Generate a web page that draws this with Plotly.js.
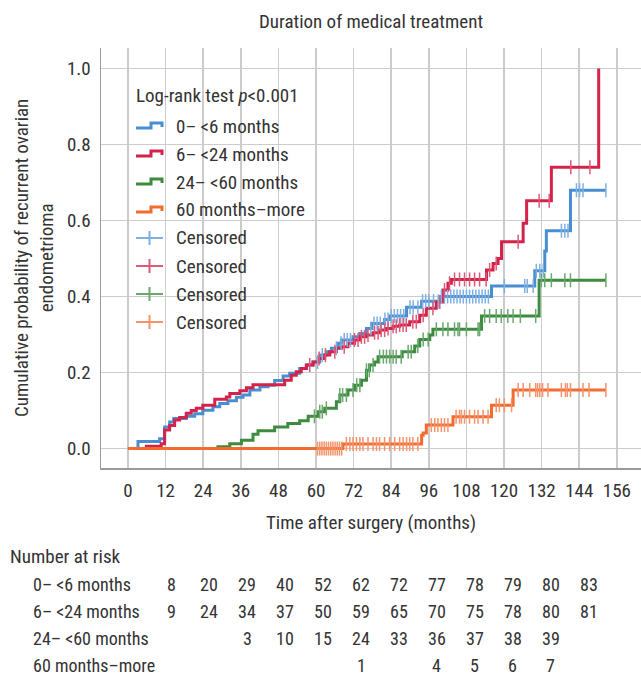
<!DOCTYPE html>
<html>
<head>
<meta charset="utf-8">
<script src="https://cdn.plot.ly/plotly-3.0.1.min.js"></script>
<style>
html,body{margin:0;padding:0;background:#fff;}
#chart{width:641px;height:679px;}
</style>
</head>
<body>
<div id="chart"></div>
<script>
// ---------------- data ----------------
const groupNames = ["0\u2013 <6 months", "6\u2013 <24 months", "24\u2013 <60 months", "60 months\u2013more"];
const groupColors = ["#4a8ed2", "#d3234b", "#3c8b3f", "#f26c2f"];
const censorColors = ["#7fb0e2", "#dc5a78", "#6aa86c", "#f5936a"];

// event times (months) and cumulative probability after each step
const t_0to6 = [0, 3.2, 10.1, 11.7, 13.3, 14.6, 18.6, 21.3, 23.9, 27.1, 29.3, 31.9, 34.6, 36.7, 38.9, 42.1, 44.7, 46.8, 49.5, 51.6, 54.8, 57.0, 59.0, 61.2, 63.3, 64.9, 67.1, 68.1, 71.8, 74.0, 76.1, 77.7, 81.9, 83.5, 88.9, 93.7, 99.5, 116.0, 129.8, 133.0, 133.5, 141.2, 152.5];
const p_0to6 = [0, 0.019, 0.026, 0.057, 0.070, 0.079, 0.085, 0.092, 0.101, 0.110, 0.119, 0.126, 0.135, 0.141, 0.154, 0.163, 0.167, 0.179, 0.191, 0.198, 0.211, 0.220, 0.228, 0.246, 0.255, 0.264, 0.277, 0.286, 0.294, 0.303, 0.316, 0.329, 0.340, 0.349, 0.372, 0.388, 0.400, 0.428, 0.468, 0.520, 0.573, 0.680, 0.680];
const c_0to6 = [60.5, 62, 66.5, 68, 69, 70, 71, 77.5, 78.5, 79.5, 80.5, 82, 83, 84, 85, 86, 87, 88, 90, 91, 92.5, 94, 95, 96, 97.5, 99, 100, 101, 102, 103, 104, 105, 106, 107, 108, 109, 110, 111, 112, 113, 114, 115, 120.1, 126.6, 127.4, 129.3, 130.3, 131.4, 132.5, 138.3, 139.4, 140.4, 143.1, 144.1, 145.2, 152.5];

const t_6to24 = [0, 5.9, 10.6, 11.7, 13.3, 14.9, 16.5, 18.6, 20.2, 21.8, 23.9, 27.7, 31.4, 32.5, 35.7, 37.8, 39.9, 50.0, 52.1, 53.7, 55.3, 56.9, 59.1, 60.7, 62.8, 64.4, 66.5, 68.1, 70.2, 72.3, 74.0, 76.1, 78.2, 80.3, 82.5, 84.6, 86.7, 89.9, 93.1, 95.2, 98.4, 100.5, 102.1, 103.2, 114.4, 116.5, 118.1, 119.2, 126.1, 127.2, 135.1, 150.2];
const p_6to24 = [0, 0.006, 0.013, 0.049, 0.061, 0.075, 0.082, 0.093, 0.100, 0.106, 0.114, 0.130, 0.136, 0.145, 0.152, 0.160, 0.168, 0.180, 0.193, 0.202, 0.211, 0.220, 0.228, 0.237, 0.246, 0.255, 0.264, 0.268, 0.277, 0.286, 0.294, 0.299, 0.305, 0.312, 0.316, 0.322, 0.325, 0.334, 0.351, 0.369, 0.386, 0.417, 0.435, 0.445, 0.470, 0.487, 0.500, 0.544, 0.593, 0.652, 0.740, 1.000];
const c_6to24 = [58, 61, 63, 66, 69, 72.3, 73.4, 74.5, 75.5, 76.6, 78.7, 79.8, 80.8, 81.9, 83, 84.6, 85.6, 86.7, 87.8, 88.8, 90.9, 92, 94.2, 97.3, 99.5, 101, 102.6, 104.2, 105.8, 107.4, 109, 110.6, 112.2, 114.3, 115.4, 117.5, 124.5, 131.2, 134.4, 141.3, 147.4];

const t_24to60 = [0, 28.7, 32.5, 36.2, 39.9, 41.5, 46.8, 51.0, 54.8, 57.5, 60.7, 62.8, 66.5, 67.6, 70.2, 72.3, 74.5, 76.1, 77.1, 78.7, 79.8, 87.5, 91.5, 93.1, 96.3, 97.3, 112.8, 131.2, 152.5];
const p_24to60 = [0, 0.005, 0.013, 0.022, 0.038, 0.047, 0.057, 0.066, 0.073, 0.085, 0.097, 0.106, 0.123, 0.141, 0.154, 0.167, 0.180, 0.206, 0.220, 0.228, 0.242, 0.255, 0.270, 0.287, 0.299, 0.314, 0.349, 0.443, 0.443];
const c_24to60 = [59.5, 61.2, 62, 63.3, 67.6, 68.5, 69.7, 71.8, 73, 74, 76.1, 77, 78.2, 80.3, 81.5, 82.5, 83.5, 84.6, 85.6, 87.2, 89.4, 90.4, 92.5, 94.2, 95.8, 98.4, 100.5, 102.1, 104.2, 105.3, 105.8, 108, 111.7, 112.2, 113.8, 115.4, 117.5, 119.1, 121.2, 122.9, 125.2, 130.1, 131.9, 133, 135.1, 139.4, 141.2, 152.5];

const t_60more = [0, 68.6, 93.7, 94.2, 95.2, 103.7, 116.0, 122.9, 152.5];
const p_60more = [0, 0.012, 0.035, 0.041, 0.062, 0.084, 0.114, 0.154, 0.154];
const c_60more = [60.5, 61.2, 61.9, 62.6, 63.3, 64, 64.7, 65.4, 66.1, 66.8, 67.5, 68.2, 69.7, 70.8, 71.8, 72.9, 74, 75, 76.6, 78.2, 79.3, 80.3, 81.9, 83.5, 85.1, 86.7, 87.8, 88.9, 89.9, 90.9, 92.5, 96.8, 97.9, 98.9, 100, 101, 102.1, 104.7, 105.8, 106.4, 107.4, 109, 110.6, 111.7, 113.3, 114.9, 117.5, 118.5, 120.1, 122.4, 124.5, 126.1, 128.2, 130.1, 130.7, 131.4, 132.3, 134, 138.3, 139.6, 140.2, 141.2, 145.2, 147.1, 152.5];

// axis ticks
const xTicks = [0, 12, 24, 36, 48, 60, 72, 84, 96, 108, 120, 132, 144, 156];
const yTicks = [0, 0.2, 0.4, 0.6, 0.8, 1.0];

// number at risk table
const riskMonths = [12, 24, 36, 48, 60, 72, 84, 96, 108, 120, 132, 144];
const risk_0to6 = [8, 20, 29, 40, 52, 62, 72, 77, 78, 79, 80, 83];
const risk_6to24 = [9, 24, 34, 37, 50, 59, 65, 70, 75, 78, 80, 81];
const risk_24to60 = [null, null, 3, 10, 15, 24, 33, 36, 37, 38, 39, null];
const risk_60more = [null, null, null, null, null, 1, null, 4, 5, 6, 7, null];

const titleText = "Duration of medical treatment";
const xTitle = "Time after surgery (months)";
const yTitle = "Cumulative probability of recurrent ovarian<br>endometrioma";
const legendHeader = "Log-rank test <i>p</i>&lt;0.001";
const censorLabel = "Censored";
const riskHeader = "Number at risk";

// ---------------- build ----------------
const FONT = "'Liberation Sans Narrow', 'Roboto Condensed', 'Arial Narrow', Roboto, sans-serif";
const TXT = "#333333";
const W = 641, H = 679, L = 101, R = 0, T = 48, B = 211;
const PW = W - L - R, PH = H - T - B;
const px = v => (v - L) / PW;
const py = v => (T + PH - v) / PH;

function valueAt(ts, ps, t) {
  let v = ps[0];
  for (let i = 0; i < ts.length; i++) { if (ts[i] <= t) v = ps[i]; }
  return v;
}

const curves = [
  {t: t_0to6, p: p_0to6, c: c_0to6},
  {t: t_6to24, p: p_6to24, c: c_6to24},
  {t: t_24to60, p: p_24to60, c: c_24to60},
  {t: t_60more, p: p_60more, c: c_60more}
];
const drawOrder = [0, 2, 1, 3];
const traces = [];
drawOrder.forEach(g => {
  const cv = curves[g];
  traces.push({
    type: 'scatter', mode: 'lines', x: cv.t, y: cv.p,
    line: {shape: 'hv', color: groupColors[g], width: 3},
    showlegend: false, hoverinfo: 'skip', name: groupNames[g]
  });
});
drawOrder.forEach(g => {
  const cv = curves[g];
  traces.push({
    type: 'scatter', mode: 'markers', x: cv.c, y: cv.c.map(t => valueAt(cv.t, cv.p, t)),
    marker: {symbol: 'line-ns', size: 10, line: {color: censorColors[g], width: 1.5}},
    showlegend: false, hoverinfo: 'skip', name: censorLabel
  });
});

const annotations = [];
const shapes = [];
// y title
annotations.push({
  xref: 'paper', yref: 'paper', x: px(34), y: 0.5, xanchor: 'center', yanchor: 'middle',
  text: yTitle, textangle: -90, showarrow: false, font: {family: FONT, size: 19, color: TXT}
});
// custom legend
annotations.push({
  xref: 'paper', yref: 'paper', x: px(134), y: py(95), xanchor: 'left', yanchor: 'middle',
  text: legendHeader, showarrow: false, font: {family: FONT, size: 19, color: TXT}
});
const legendLabels = groupNames.concat([censorLabel, censorLabel, censorLabel, censorLabel]);
legendLabels.forEach((lab, k) => {
  const yc = 126 + 28 * k;
  annotations.push({
    xref: 'paper', yref: 'paper', x: px(174), y: py(yc), xanchor: 'left', yanchor: 'middle',
    text: lab, showarrow: false, font: {family: FONT, size: 19, color: TXT}
  });
  if (k < 4) {
    const path = `M${px(136)},${py(yc + 2)} L${px(151)},${py(yc + 2)} L${px(151)},${py(yc - 3)} L${px(162)},${py(yc - 3)} L${px(162)},${py(yc + 1)}`;
    shapes.push({type: 'path', xref: 'paper', yref: 'paper', path: path, line: {color: groupColors[k], width: 3}});
  } else {
    const g = k - 4;
    shapes.push({type: 'line', xref: 'paper', yref: 'paper', x0: px(136), x1: px(163), y0: py(yc), y1: py(yc), line: {color: censorColors[g], width: 2}});
    shapes.push({type: 'line', xref: 'paper', yref: 'paper', x0: px(149.5), x1: px(149.5), y0: py(yc - 7), y1: py(yc + 7), line: {color: censorColors[g], width: 2}});
  }
});
// number at risk table
const TF = 18;
annotations.push({
  xref: 'paper', yref: 'paper', x: px(8), y: py(556), xanchor: 'left', yanchor: 'middle',
  text: riskHeader, showarrow: false, font: {family: FONT, size: 19, color: TXT}
});
const riskRows = [risk_0to6, risk_6to24, risk_24to60, risk_60more];
riskRows.forEach((row, r) => {
  const yc = 584 + 27.3 * r;
  annotations.push({
    xref: 'paper', yref: 'paper', x: px(31), y: py(yc), xanchor: 'left', yanchor: 'middle',
    text: groupNames[r], showarrow: false, font: {family: FONT, size: TF, color: TXT}
  });
  row.forEach((v, i) => {
    if (v === null) return;
    annotations.push({
      xref: 'x', yref: 'paper', x: riskMonths[i], y: py(yc), xanchor: 'center', yanchor: 'middle',
      xshift: 6 + 0.3 * i,
      text: String(v), showarrow: false, font: {family: FONT, size: TF, color: TXT}
    });
  });
});

const layout = {
  width: W, height: H,
  margin: {l: L, r: R, t: T, b: B, pad: 0},
  paper_bgcolor: '#ffffff', plot_bgcolor: '#ffffff',
  font: {family: FONT, size: 19, color: TXT},
  title: {text: titleText, font: {family: FONT, size: 19, color: TXT}, x: 0.5, xref: 'paper', y: 1 - 21 / H, yanchor: 'middle'},
  xaxis: {
    range: [-8.6, 163.7], tickvals: xTicks, ticktext: xTicks.map(String),
    showgrid: true, gridcolor: '#cccccc', gridwidth: 1.6, zeroline: false,
    showline: true, linecolor: '#9a9a9a', linewidth: 1.5, ticks: '',
    ticklabelstandoff: 5,
    tickfont: {family: FONT, size: 19, color: TXT},
    title: {text: xTitle, font: {family: FONT, size: 19, color: TXT}, standoff: 14}
  },
  yaxis: {
    range: [-0.051, 1.054], tickvals: yTicks, ticktext: yTicks.map(v => v.toFixed(1)),
    showgrid: true, gridcolor: '#cccccc', gridwidth: 1.6, zeroline: false,
    showline: true, linecolor: '#9a9a9a', linewidth: 1.5, ticks: '',
    ticklabelstandoff: 5,
    tickfont: {family: FONT, size: 19, color: TXT}
  },
  showlegend: false,
  annotations: annotations,
  shapes: shapes
};

Plotly.newPlot('chart', traces, layout, {staticPlot: true, displayModeBar: false});
</script>
</body>
</html>
